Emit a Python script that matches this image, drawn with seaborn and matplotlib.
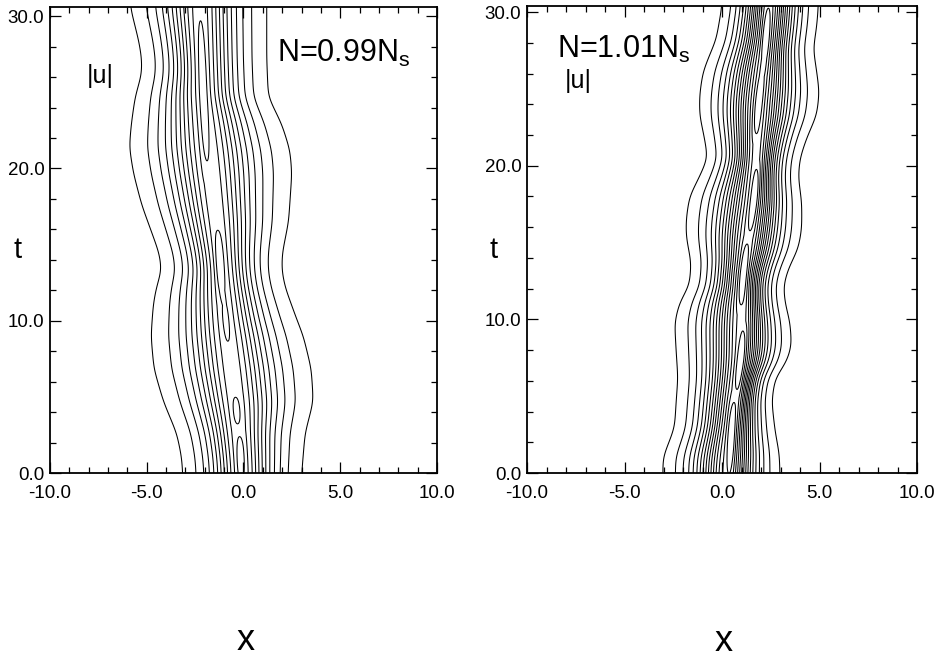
import numpy as np
import matplotlib
matplotlib.use("Agg")
import matplotlib.pyplot as plt
import seaborn as sns

# ---------------- data ----------------
# Left panel (N = 0.99 Ns): outermost contour, left and right side (t, x)
L_left_t = [0, 1.05, 2.6, 4.7, 6.85, 9.0, 11.1, 12.2, 13.3, 14.4, 15.4, 17.6, 19.7, 21.4, 22.9, 24.7, 26.2, 27.2, 28.3, 30.6]
L_left_x = [-3.14, -3.2, -3.45, -4.14, -4.63, -4.78, -4.66, -4.5, -4.23, -4.35, -4.63, -5.26, -5.69, -5.9, -5.8, -5.6, -5.26, -5.26, -5.4, -5.85]
L_right_t = [0, 2.6, 4.7, 6.85, 9.0, 10.1, 12.2, 13.3, 14.4, 16.5, 19.7, 21.2, 22.9, 24.7, 27.2, 30.6]
L_right_x = [3.01, 3.18, 3.61, 3.5, 3.09, 2.75, 2.15, 1.98, 2.0, 2.33, 2.5, 2.4, 1.98, 1.28, 1.2, 1.2]
# crest (maximum of |u|) track
L_center_t = [0, 1, 4.1, 10, 14.4, 19.5, 25, 30.6]
L_center_x = [-0.1, -0.15, -0.35, -0.9, -1.2, -1.65, -2.1, -2.25]
# closed top-level contours: x0, t0, x1, t1, height
L_streaks = [(-0.12, -1.0, -0.18, 2.8, 0.09),
             (-0.30, 2.9, -0.42, 5.3, 0.07),
             (-0.78, 8.0, -1.05, 12.0, 0.06),
             (-1.10, 11.0, -1.35, 16.4, 0.11),
             (-1.90, 19.0, -2.25, 30.8, 0.10)]
L_levels = [0.08, 0.164, 0.248, 0.332, 0.416, 0.5, 0.584, 0.668, 0.752, 0.836, 0.92, 1.004]
L_amp = 0.975
L_tmax = 30.6

# Right panel (N = 1.01 Ns)
R_left_t = [0, 1.03, 2.1, 2.96, 4.67, 6.2, 7.9, 9.8, 11.1, 12.2, 13.7, 15.4, 16.5, 18.0, 19.3, 20.5, 21.8, 23.3, 24.6, 26.1, 27.2, 28.2, 30.4]
R_left_x = [-3.03, -3.03, -2.69, -2.43, -2.35, -2.26, -2.35, -2.43, -2.18, -1.67, -1.58, -1.84, -1.84, -1.67, -1.15, -0.73, -0.9, -1.15, -1.15, -0.98, -0.64, -0.3, 0.0]
R_right_t = [0, 1.24, 2.74, 4.67, 6.17, 7.24, 8.3, 9.8, 11.1, 12.2, 13.3, 14.6, 15.9, 17.6, 19.3, 20.5, 21.8, 23.3, 24.8, 26.1, 27.6, 29.1, 30.4]
R_right_x = [2.97, 2.94, 2.72, 2.55, 2.72, 3.32, 3.57, 3.49, 3.23, 3.15, 3.4, 3.91, 4.09, 4.09, 3.91, 4.0, 4.34, 4.86, 4.99, 4.86, 4.68, 4.86, 4.94]
R_center_t = [0, 2.5, 7.4, 12.9, 17.8, 24.2, 28, 30.4]
R_center_x = [0.3, 0.48, 0.97, 1.1, 1.65, 1.9, 2.25, 2.4]
R_streaks = [(0.38, -0.8, 0.58, 5.4, 0.09),
             (0.72, 4.9, 1.20, 9.9, 0.09),
             (0.88, 10.3, 1.30, 15.5, 0.09),
             (1.40, 15.2, 1.88, 20.4, 0.09),
             (1.65, 21.4, 2.14, 27.0, 0.09),
             (2.10, 25.8, 2.40, 30.8, 0.09)]
R_levels = [0.07, 0.132, 0.194, 0.256, 0.318, 0.38, 0.442, 0.504, 0.566, 0.628, 0.69, 0.752, 0.814, 0.876, 0.938, 1.0]
R_amp = 0.97
R_tmax = 30.4

x_ticks = [-10.0, -5.0, 0.0, 5.0, 10.0]
t_ticks = [0.0, 10.0, 20.0, 30.0]
titles = ["N=0.99N$_\\mathregular{s}$", "N=1.01N$_\\mathregular{s}$"]

# ---------------- field construction ----------------
xg = np.linspace(-10, 10, 1001)
tg = np.linspace(0, 31, 776)
X, T = np.meshgrid(xg, tg)


def track(tk, xk, sigma=0.45):
    v = np.interp(tg, tk, xk)
    dt = tg[1] - tg[0]
    n = int(4 * sigma / dt)
    k = np.exp(-0.5 * (np.arange(-n, n + 1) * dt / sigma) ** 2)
    k /= k.sum()
    vp = np.pad(v, n, mode="edge")
    return np.convolve(vp, k, mode="valid")


def field(lt, lx, rt, rx, ct, cx, streaks, levels, amp):
    xl = track(lt, lx)[:, None]
    xr = track(rt, rx)[:, None]
    c = track(ct, cx)[:, None]
    l0 = levels[0] / amp
    a0 = np.arccosh(1.0 / l0)
    wl = (c - xl) / a0
    wr = (xr - c) / a0
    w = np.where(X < c, wl, wr)
    f = amp / np.cosh((X - c) / w)
    for x0, t0, x1, t1, h in streaks:
        s = (T - t0) / (t1 - t0)
        along = np.where((s > 0) & (s < 1), np.sin(np.pi * np.clip(s, 0, 1)), 0.0)
        xs = x0 + (x1 - x0) * s
        f = f + h * along * np.exp(-((X - xs) / 0.22) ** 2)
    return f


F_left = field(L_left_t, L_left_x, L_right_t, L_right_x, L_center_t, L_center_x, L_streaks, L_levels, L_amp)
F_right = field(R_left_t, R_left_x, R_right_t, R_right_x, R_center_t, R_center_x, R_streaks, R_levels, R_amp)

# ---------------- figure ----------------
sns.set_theme(style="ticks")
plt.rcParams["font.family"] = ["Liberation Sans", "DejaVu Sans"]
plt.rcParams["mathtext.fontset"] = "custom"
plt.rcParams["mathtext.rm"] = "Liberation Sans"
plt.rcParams["text.color"] = "black"
plt.rcParams["axes.labelcolor"] = "black"

fig = plt.figure(figsize=(9.36, 6.64), dpi=100)
ax_l = fig.add_axes([50 / 936, 1 - 473 / 664, 387 / 936, 466 / 664])
ax_r = fig.add_axes([527 / 936, 1 - 473 / 664, 390 / 936, 467 / 664])

panels = [(ax_l, F_left, L_levels, L_tmax, titles[0], (0.587, 0.882), (0.096, 0.836), -0.083),
          (ax_r, F_right, R_levels, R_tmax, titles[1], (0.078, 0.889), (0.097, 0.825), -0.087)]

for ax, F, levels, tmax, title, tpos, upos, ylab_x in panels:
    ax.contour(xg, tg, F, levels=levels, colors="black", linewidths=0.75)
    ax.set_xlim(-10, 10)
    ax.set_ylim(0, tmax)
    ax.set_xticks(x_ticks)
    ax.set_yticks(t_ticks)
    ax.set_xticklabels([f"{v:.1f}" for v in x_ticks])
    ax.set_yticklabels([f"{v:.1f}" for v in t_ticks])
    ax.set_xticks(np.arange(-10, 10.01, 1.0), minor=True)
    ax.set_yticks(np.arange(0, 30.01, 2.0), minor=True)
    ax.tick_params(which="both", direction="in", top=True, right=True, colors="black",
                   labelsize=13.5, width=0.9)
    ax.tick_params(which="major", length=8)
    ax.tick_params(which="minor", length=4)
    ax.tick_params(axis="x", which="major", pad=9)
    ax.tick_params(axis="y", which="major", pad=4)
    for sp in ax.spines.values():
        sp.set_linewidth(1.3)
        sp.set_color("black")
    ax.set_xlabel("x", fontsize=26, va="center", ha="center", color="black")
    ax.xaxis.set_label_coords(0.505, -0.36)
    ax.set_ylabel("t", fontsize=21, rotation=0, va="center", ha="center", color="black")
    ax.yaxis.set_label_coords(ylab_x, 0.478)
    ax.text(tpos[0], tpos[1], title, transform=ax.transAxes, fontsize=22,
            ha="left", va="baseline", color="black")
    ax.text(upos[0], upos[1], "|u|", transform=ax.transAxes, fontsize=18,
            ha="left", va="baseline", color="black")

fig.savefig("out.png", dpi=100, facecolor="white")
